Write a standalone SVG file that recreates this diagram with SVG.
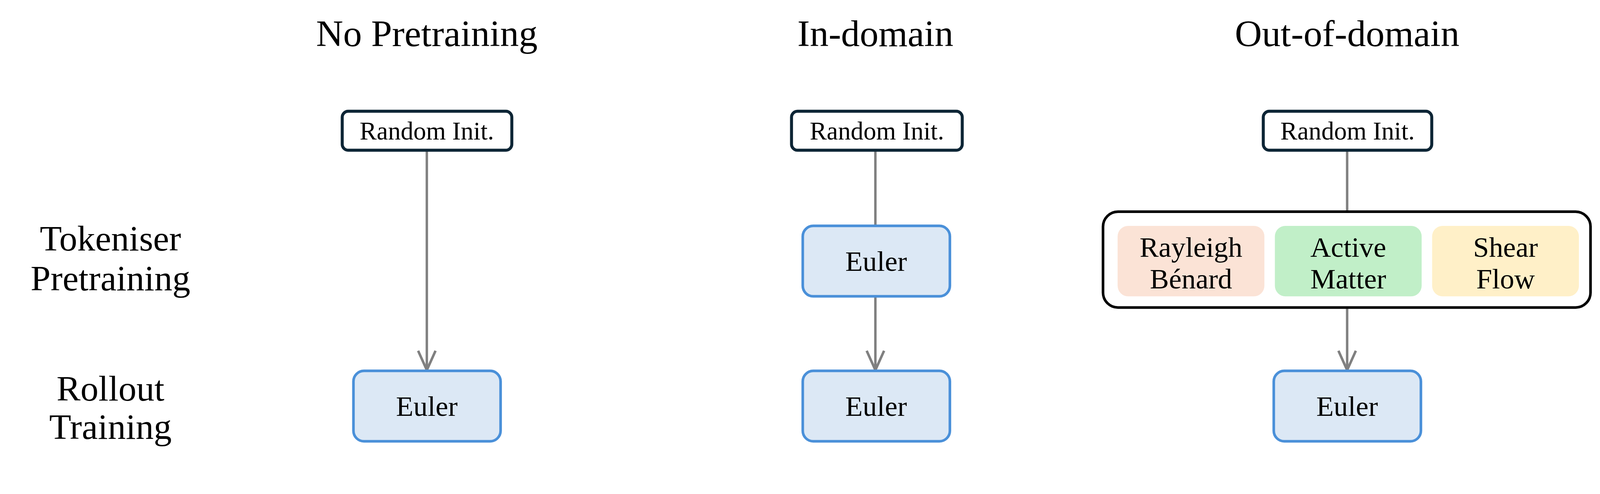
<svg xmlns="http://www.w3.org/2000/svg" width="4278" height="1264" viewBox="0 0 4278 1264">
<style>
text{font-family:"Liberation Serif","DejaVu Serif",serif;fill:#000;text-anchor:middle}
.h{font-size:100px}
.r{font-size:96px}
.ri{fill:#fff;stroke:#0d2535;stroke-width:8}
.eu{fill:#dce8f5;stroke:#4a90d9;stroke-width:7}
.t1{font-size:68px}
.t2{font-size:76px}
.ln{stroke:#808080;stroke-width:6.5;fill:none}
</style>
<defs>
<marker id="v" viewBox="-2 -12 24 24" refX="20" refY="0" markerWidth="62" markerHeight="62" markerUnits="userSpaceOnUse" orient="auto"><path d="M0,-9 L20,0 L0,9" fill="none" stroke="#808080" stroke-width="2.6"/></marker></defs>
<g transform="scale(0.9585)">
<g id="titles">
<text class="h" x="1140" y="123">No Pretraining</text>
<text class="h" x="2338" y="123">In-domain</text>
<text class="h" x="3598" y="123">Out-of-domain</text>
<text class="r" x="295" y="669">Tokeniser</text>
<text class="r" x="295" y="775">Pretraining</text>
<text class="r" x="295" y="1069">Rollout</text>
<text class="r" x="295" y="1172">Training</text>
</g>
<g id="connectors">
<line class="ln" x1="1140" y1="401" x2="1140" y2="988" marker-end="url(#v)"/>
<line class="ln" x1="2338" y1="401" x2="2338" y2="603"/>
<line class="ln" x1="2338" y1="791" x2="2338" y2="988" marker-end="url(#v)"/>
<line class="ln" x1="3598" y1="401" x2="3598" y2="565"/>
<line class="ln" x1="3598" y1="821" x2="3598" y2="988" marker-end="url(#v)"/>
</g>
<g id="ri1"><rect class="ri" x="914" y="297" width="453" height="104" rx="16"/><text class="t1" x="1140" y="372">Random Init.</text></g>
<g id="ri2"><rect class="ri" x="2114" y="297" width="456" height="104" rx="16"/><text class="t1" x="2342" y="372">Random Init.</text></g>
<g id="ri3"><rect class="ri" x="3374" y="297" width="450" height="104" rx="16"/><text class="t1" x="3599" y="372">Random Init.</text></g>
<g id="eu1"><rect class="eu" x="944" y="990" width="393" height="188" rx="28"/><text class="t2" x="1140" y="1110">Euler</text></g>
<g id="eu2"><rect class="eu" x="2144" y="603" width="393" height="188" rx="28"/><text class="t2" x="2340" y="723">Euler</text></g>
<g id="eu3"><rect class="eu" x="2144" y="990" width="393" height="188" rx="28"/><text class="t2" x="2340" y="1110">Euler</text></g>
<g id="eu4"><rect class="eu" x="3402" y="990" width="393" height="188" rx="28"/><text class="t2" x="3598" y="1110">Euler</text></g>
<g id="group"><rect x="2946" y="565" width="1302" height="256" rx="40" fill="#fff" stroke="#000" stroke-width="7"/></g>
<g id="rb"><rect x="2985" y="603" width="392" height="188" rx="28" fill="#fbe3d6"/><text class="t2" x="3181" y="685">Rayleigh</text><text class="t2" x="3181" y="770">Bénard</text></g>
<g id="am"><rect x="3405" y="603" width="392" height="188" rx="28" fill="#c1efc8"/><text class="t2" x="3601" y="685">Active</text><text class="t2" x="3601" y="770">Matter</text></g>
<g id="sf"><rect x="3825" y="603" width="392" height="188" rx="28" fill="#fff0c8"/><text class="t2" x="4021" y="685">Shear</text><text class="t2" x="4021" y="770">Flow</text></g>
</g>
</svg>
